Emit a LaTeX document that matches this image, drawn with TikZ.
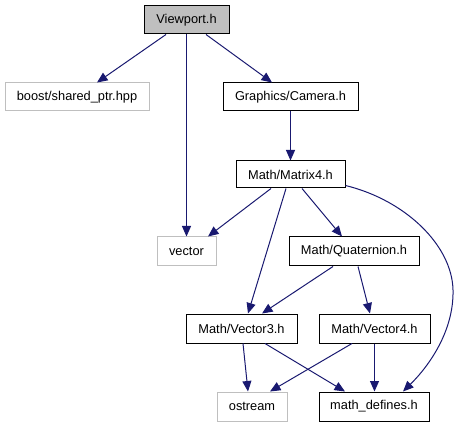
\documentclass[tikz,border=0pt]{standalone}
\usepackage{fontspec}
\setmainfont{Liberation Sans}
\usetikzlibrary{arrows.meta}
\definecolor{edgeblue}{HTML}{191970}
\definecolor{lightgrey}{HTML}{BFBFBF}
\tikzset{
  box/.style={draw=black, line width=1pt, rectangle, inner sep=0pt, minimum height=28pt, font=\fontsize{12.8}{15}\selectfont, text=black},
  extbox/.style={box, draw=lightgrey},
  rootbox/.style={box, fill=lightgrey},
  dep/.style={draw=edgeblue, line width=1pt, -{Triangle[length=10.5pt,width=9pt]}, fill=none},
}
\begin{document}
\begin{tikzpicture}[x=1pt,y=-1pt]
\useasboundingbox (0,0) rectangle (460,427);
\node[rootbox, minimum width=85pt] (viewport) at (186.5,20) {Viewport.h};
\node[extbox, minimum width=144pt] (boost) at (77,97) {boost/shared\_ptr.hpp};
\node[box, minimum width=135pt] (camera) at (290.5,97) {Graphics/Camera.h};
\node[box, minimum width=109pt, minimum height=27pt] (matrix) at (290.5,174.5) {Math/Matrix4.h};
\node[extbox, minimum width=59pt, minimum height=29pt] (vector) at (186.5,251.5) {vector};
\node[box, minimum width=130pt, minimum height=29pt] (quat) at (354,251.5) {Math/Quaternion.h};
\node[box, minimum width=111pt, minimum height=29pt] (vecthree) at (241.5,328.5) {Math/Vector3.h};
\node[box, minimum width=111pt, minimum height=29pt] (vecfour) at (374.5,328.5) {Math/Vector4.h};
\node[extbox, minimum width=70pt, minimum height=29pt] (ostream) at (252,406.5) {ostream};
\node[box, minimum width=110pt, minimum height=29pt] (mathdef) at (374,406.5) {math\_defines.h};

\draw[dep] ([xshift=-20.5pt]viewport.south) -- ([xshift=20pt]boost.north);
\draw[dep] (viewport.south) -- (vector.north);
\draw[dep] ([xshift=19.5pt]viewport.south) -- ([xshift=-18.5pt]camera.north);
\draw[dep] (camera.south) -- (matrix.north);
\draw[dep] ([xshift=-19.5pt]matrix.south) -- ([xshift=21.5pt]vector.north);
\draw[dep] ([xshift=-4.5pt]matrix.south) -- ([xshift=6.5pt]vecthree.north);
\draw[dep] ([xshift=11.5pt]matrix.south) -- ([xshift=-12pt]quat.north);
\draw[dep] ([yshift=3pt]matrix.south east) .. controls (405,200) and (452,245) .. (453,290) .. controls (454,330) and (430,365) .. ([xshift=29pt]mathdef.north);
\draw[dep] ([xshift=-21pt]quat.south) -- ([xshift=20.5pt]vecthree.north);
\draw[dep] ([xshift=4pt]quat.south) -- ([xshift=-4.5pt]vecfour.north);
\draw[dep] ([xshift=1.5pt]vecthree.south) -- ([xshift=-4pt]ostream.north);
\draw[dep] ([xshift=23.5pt]vecthree.south) -- ([xshift=-29pt]mathdef.north);
\draw[dep] ([xshift=-22.5pt]vecfour.south) -- ([xshift=18pt]ostream.north);
\draw[dep] (vecfour.south) -- ([xshift=0.5pt]mathdef.north);
\end{tikzpicture}
\end{document}
